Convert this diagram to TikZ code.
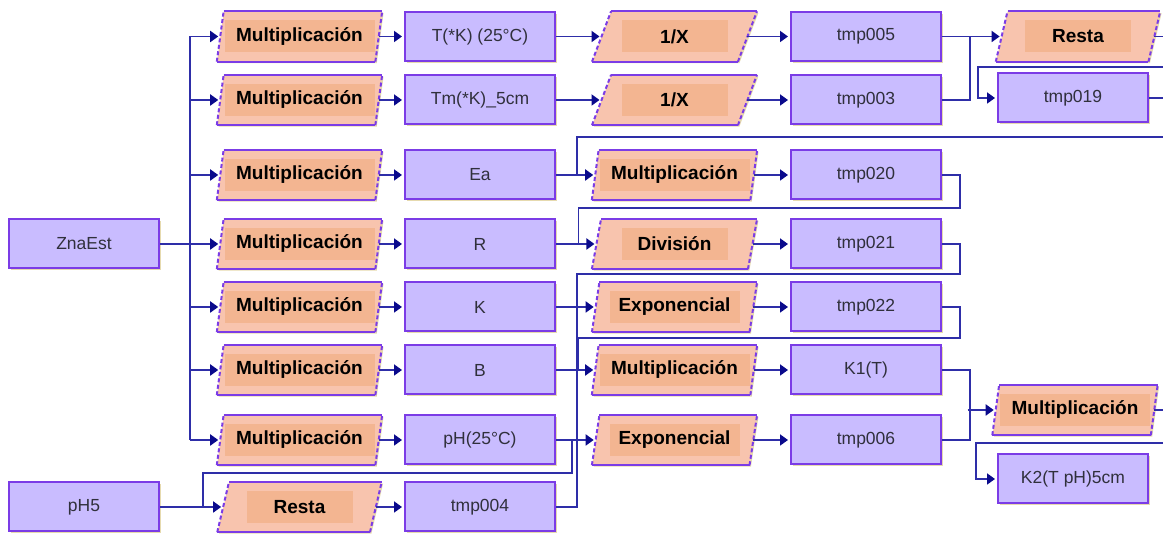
\documentclass[tikz,border=0pt]{standalone}
\usepackage{fontspec}
\setmainfont{Liberation Sans}
\usetikzlibrary{shapes.geometric, arrows.meta, positioning, calc, shadows}
\definecolor{varfill}{HTML}{C9BCFF}
\definecolor{varline}{HTML}{7B3CE6}
\definecolor{vartext}{HTML}{30303C}
\definecolor{opfill}{HTML}{F8C4AE}
\definecolor{opcore}{HTML}{F3B591}
\definecolor{wirecol}{HTML}{2E2EA8}
\definecolor{tipcol}{HTML}{0A0A8C}
\definecolor{shade}{HTML}{E4D7A6}

\begin{document}
\begin{tikzpicture}[
    on grid,
    var/.style={draw=varline, line width=2pt, fill=varfill, minimum width=150pt, minimum height=49pt,
        font=\fontsize{17.5}{20}\selectfont, text=vartext,
        drop shadow={shadow xshift=1.6pt, shadow yshift=-1.6pt, fill=shade, opacity=0.9}},
    op/.style={trapezium, trapezium left angle=75, trapezium right angle=105, trapezium stretches=true,
        minimum width=165pt, minimum height=50pt, inner sep=2pt, fill=opfill,
        font=\bfseries\fontsize{19}{21}\selectfont,
        drop shadow={shadow xshift=1.6pt, shadow yshift=-1.6pt, fill=shade, opacity=0.9},
        path picture={\fill[opcore] ($(path picture bounding box.center)+(-#1/2,-16pt)$) rectangle ($(path picture bounding box.center)+(#1/2,16pt)$);}},
    op/.default=106pt,
    opedge/.style={draw=varline, line width=2pt},
    wire/.style={draw=wirecol, line width=1.8pt},
    feed/.style={wire, -{Triangle[length=8pt, width=11pt, color=tipcol]}, shorten >=2pt},
]
\useasboundingbox (-84pt,244pt) rectangle (1079pt,-290pt);
\coordinate (nw) at (-84pt,244pt);
\coordinate (se) at (1079pt,-290pt);
\fill[white] (nw) rectangle (se);

% inputs and first multiplications
\node[var] (zna) at (0,0) {ZnaEst};
\node[op=150pt, right=215.5pt of zna] (m4) {Multiplicación};
\node[op=150pt, above=69pt of m4] (m3) {Multiplicación};
\node[op=150pt, above=75pt of m3] (m2) {Multiplicación};
\node[op=150pt, above=63.5pt of m2] (m1) {Multiplicación};
\node[op=150pt, below=63pt of m4] (m5) {Multiplicación};
\node[op=150pt, below=63pt of m5] (m6) {Multiplicación};
\node[op=150pt, below=70pt of m6] (m7) {Multiplicación};
\node[op, below=67pt of m7] (rph) {Resta};
\node[var, left=215.5pt of rph] (ph5) {pH5};

% parameters
\node[var, right=180.5pt of m1] (tk25) {T(*K) (25°C)};
\node[var, right=180.5pt of m2] (tm5) {Tm(*K)\_5cm};
\node[var, right=180.5pt of m3] (ea) {Ea};
\node[var, right=180.5pt of m4] (r) {R};
\node[var, right=180.5pt of m5] (k) {K};
\node[var, right=180.5pt of m6] (b) {B};
\node[var, right=180.5pt of m7] (ph25) {pH(25°C)};
\node[var, right=180.5pt of rph] (tmp4) {tmp004};

% operations on parameters
\node[op, right=194.5pt of tk25] (inv1) {1/X};
\node[op, right=194.5pt of tm5] (inv2) {1/X};
\node[op=150pt, right=194.5pt of ea] (mulEa) {Multiplicación};
\node[op, right=194.5pt of r] (div) {División};
\node[op=130pt, right=194.5pt of k] (exp1) {Exponencial};
\node[op=150pt, right=194.5pt of b] (mulB) {Multiplicación};
\node[op=130pt, right=194.5pt of ph25] (exp2) {Exponencial};

% intermediate results
\node[var, right=191.5pt of inv1] (tmp5) {tmp005};
\node[var, right=191.5pt of inv2] (tmp3) {tmp003};
\node[var, right=191.5pt of mulEa] (tmp20) {tmp020};
\node[var, right=191.5pt of div] (tmp21) {tmp021};
\node[var, right=191.5pt of exp1] (tmp22) {tmp022};
\node[var, right=191.5pt of mulB] (k1t) {K1(T)};
\node[var, right=191.5pt of exp2] (tmp6) {tmp006};

% last stage
\node[op, right=212pt of tmp5] (resta) {Resta};
\node[var, right=207pt of tmp3, yshift=2pt] (tmp19) {tmp019};
\node[op=150pt, below right=40pt and 209pt of k1t] (mulK) {Multiplicación};
\node[var, below left=69pt and 2pt of mulK] (k2) {K2(T pH)5cm};

% borders of the operations
\foreach \n in {m1,m2,m3,m4,m5,m6,m7,rph,inv1,inv2,mulEa,div,exp1,mulB,exp2,resta,mulK} {
  \draw[opedge] (\n.top left corner) -- (\n.top right corner) (\n.bottom left corner) -- (\n.bottom right corner);
  \draw[opedge, dash pattern=on 4pt off 2.5pt] (\n.bottom left corner) -- (\n.top left corner) (\n.bottom right corner) -- (\n.top right corner);
}

% ZnaEst bus
\coordinate[right=30pt of zna.east] (bus);
\draw[wire] (zna.east) -- (bus);
\draw[wire] (bus |- m1) -- (bus |- m7);
\foreach \i in {1,...,7}
  \draw[feed] (bus |- m\i) -- (m\i.left side);

% straight links
\foreach \a/\b in {m1/tk25, m2/tm5, m3/ea, m4/r, m5/k, m6/b, m7/ph25, rph/tmp4}
  \draw[feed] (\a.right side) -- (\b.west);
\foreach \a/\b in {tk25/inv1, tm5/inv2, ea/mulEa, r/div, k/exp1, b/mulB, ph25/exp2}
  \draw[feed] (\a.east) -- (\b.left side);
\foreach \a/\b in {inv1/tmp5, inv2/tmp3, mulEa/tmp20, div/tmp21, exp1/tmp22, mulB/k1t, exp2/tmp6}
  \draw[feed] (\a.right side) -- (\b.west);

% pH inputs of Resta
\coordinate[right=43pt of ph5.east] (bend);
\draw[wire] (ph5.east) -- (bend);
\draw[feed] (bend) -- (rph.left side);
\draw[wire] (ph25.east) -- ++(16pt,0) -- ++(0,-33pt) -| (bend);
\draw[wire] ([xshift=21pt]k.east) -- ([xshift=21pt]tmp4.east) -- (tmp4.east);

% loops back from the results
\draw[wire] ([xshift=-18pt]mulEa.left side) -- ++(0,38pt) -- ($(se |- mulEa)+(0,38pt)$);
\draw[wire] (tmp20.east) -- ++(18pt,0) |- ([shift={(-18pt,36pt)}]div.left side) -- ([xshift=-18pt]div.left side);
\draw[wire] (tmp21.east) -- ++(18pt,0) |- ([shift={(-19pt,33pt)}]exp1.left side) -- ([xshift=-19pt]exp1.left side);
\draw[wire] (tmp22.east) -- ++(18pt,0) |- ([shift={(-17pt,32pt)}]mulB.left side) -- ([xshift=-17pt]mulB.left side);

% top right
\draw[wire] (tmp3.east) -- ++(28pt,0) |- (tmp5.east);
\draw[feed] (tmp5.east) -- (resta.left side);
\draw[wire] (resta.right side) -- (resta.right side -| se);
\draw[feed] ($(se |- tmp19)+(0,31pt)$) -| ([xshift=-19pt]tmp19.west) -- (tmp19.west);
\draw[wire] (tmp19.east) -- (tmp19.east -| se);

% bottom right
\draw[wire] (k1t.east) -- ++(28pt,0) |- (tmp6.east);
\draw[feed] ([xshift=-28pt]mulK.left side) -- (mulK.left side);
\draw[wire] (mulK.right side) -- (mulK.right side -| se);
\draw[feed] ($(se |- k2)+(0,36pt)$) -| ([xshift=-21pt]k2.west) -- (k2.west);

\end{tikzpicture}
\end{document}
